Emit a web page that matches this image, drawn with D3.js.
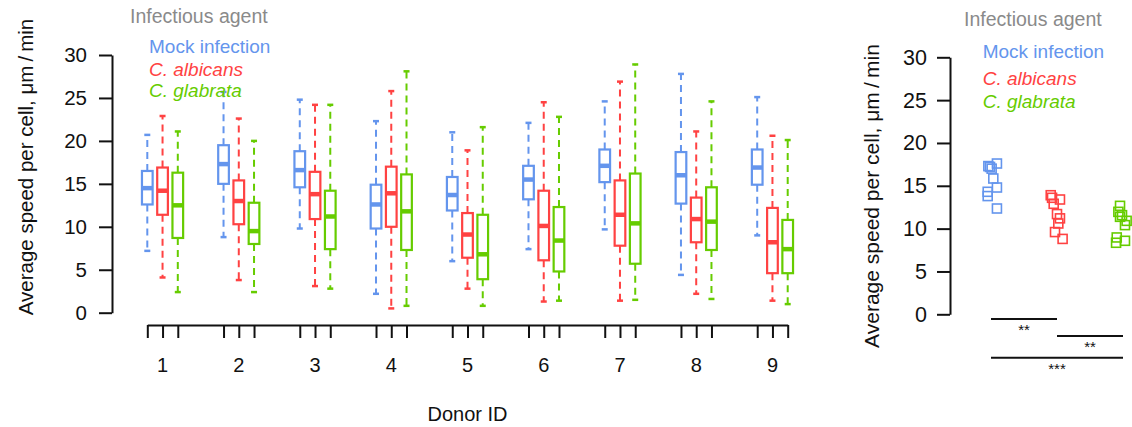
<!DOCTYPE html>
<html>
<head>
<meta charset="utf-8">
<script src="https://cdn.jsdelivr.net/npm/d3@7"></script>
<style>
body { margin: 0; background: #fff; }
svg { display: block; font-family: "Liberation Sans", Arial, sans-serif; }
</style>
</head>
<body>
<svg width="1132" height="427"></svg>
<script>
const donors = ["1", "2", "3", "4", "5", "6", "7", "8", "9"];
const agents = ["Mock infection", "C. albicans", "C. glabrata"];
const colors = ["#6495ed", "#ff4242", "#66cc00"];

// [lower whisker, Q1, median, Q3, upper whisker] for each donor
const mockStats = [
  [7.2, 12.6, 14.5, 16.5, 20.7],
  [8.8, 15.0, 17.3, 19.5, 25.7],
  [9.8, 14.6, 16.6, 18.8, 24.8],
  [2.2, 9.8, 12.6, 14.9, 22.3],
  [6.0, 11.9, 13.7, 15.8, 21.0],
  [7.4, 13.2, 15.5, 17.1, 22.1],
  [9.7, 15.2, 17.1, 19.0, 24.6],
  [4.4, 12.7, 16.0, 18.7, 27.8],
  [9.0, 14.9, 16.9, 19.0, 25.1]
];
const albicansStats = [
  [4.1, 11.4, 14.2, 16.9, 22.9],
  [3.8, 10.3, 13.0, 15.4, 22.6],
  [3.1, 10.9, 13.8, 16.4, 24.2],
  [0.5, 10.0, 13.9, 17.0, 25.8],
  [2.8, 6.4, 9.1, 11.6, 18.9],
  [1.3, 6.1, 10.1, 14.2, 24.5],
  [1.4, 7.8, 11.4, 15.4, 26.9],
  [2.2, 8.2, 10.9, 13.4, 21.1],
  [1.4, 4.6, 8.2, 12.2, 20.6]
];
const glabrataStats = [
  [2.4, 8.7, 12.5, 16.3, 21.1],
  [2.4, 8.0, 9.5, 12.8, 20.0],
  [2.8, 7.4, 11.2, 14.2, 24.2],
  [0.8, 7.3, 11.8, 16.1, 28.1],
  [0.8, 3.9, 6.8, 11.4, 21.6],
  [1.4, 4.8, 8.4, 12.3, 22.8],
  [1.5, 5.7, 10.4, 16.2, 28.9],
  [1.6, 7.3, 10.6, 14.6, 24.6],
  [1.0, 4.6, 7.4, 10.8, 20.1]
];

// per-donor averages (right panel) and their horizontal jitter
const mockMeans = [17.3, 17.6, 17.0, 17.2, 15.85, 14.8, 14.3, 13.8, 12.35];
const albicansMeans = [13.9, 13.6, 13.4, 12.9, 11.7, 11.2, 10.6, 9.6, 8.8];
const glabrataMeans = [12.66, 11.96, 11.57, 11.38, 10.91, 10.41, 8.97, 8.58, 8.35];
const mockJitter = [-0.04, 0.09, 0.01, -0.015, 0.035, 0.09, -0.05, -0.05, 0.09];
const albicansJitter = [-0.095, -0.075, 0.045, -0.05, 0, 0.045, 0.02, -0.03, 0.085];
const glabrataJitter = [-0.045, -0.07, -0.015, -0.045, 0.055, 0.03, -0.095, 0.03, -0.105];

const yTicks = [0, 5, 10, 15, 20, 25, 30];
const comparisons = [
  {from: 0, to: 1, label: "**"},
  {from: 1, to: 2, label: "**"},
  {from: 0, to: 2, label: "***"}
];

const allStats = [mockStats, albicansStats, glabrataStats];
const allMeans = [mockMeans, albicansMeans, glabrataMeans];
const allJitter = [mockJitter, albicansJitter, glabrataJitter];
const yLabel = "Average speed per cell,  \u03bcm\u2009/\u2009min";

const svg = d3.select("svg");

// ---------- left panel: boxplots per donor ----------
const x = d3.scaleLinear().domain([1, 43]).range([147.3, 787.7]);
const y = d3.scaleLinear().domain([0, 30]).range([312.7, 55]);
const unit = x(2) - x(1);
const bw = unit * 0.7;
const pos = (d, a) => 5 * d + a + 1;

const yAxisL = svg.append("g")
  .attr("transform", "translate(112,0)")
  .call(d3.axisLeft(y).tickValues(yTicks).tickSize(13).tickSizeOuter(0).tickPadding(12));

const xPositions = [];
donors.forEach((d, i) => agents.forEach((a, j) => xPositions.push(pos(i, j))));

const xAxis = svg.append("g")
  .attr("transform", "translate(0,325)")
  .call(d3.axisBottom(x).tickValues(xPositions).tickSize(13).tickSizeOuter(0).tickFormat(""));

[yAxisL, xAxis].forEach(ax => {
  ax.selectAll("path, line").attr("stroke", "#111").attr("stroke-width", 2);
  ax.selectAll("text").attr("font-size", 20.5).attr("fill", "#111").attr("font-family", "Liberation Sans, Arial, sans-serif");
});

svg.append("g").selectAll("text")
  .data(donors)
  .join("text")
  .attr("x", (d, i) => x(pos(i, 1)))
  .attr("y", 372)
  .attr("text-anchor", "middle")
  .attr("font-size", 20)
  .attr("fill", "#111")
  .text(d => d);

svg.append("text")
  .attr("x", (x(1) + x(43)) / 2)
  .attr("y", 421)
  .attr("text-anchor", "middle")
  .attr("font-size", 20)
  .attr("fill", "#111")
  .text("Donor ID");

svg.append("text")
  .attr("transform", "translate(33,167) rotate(-90)")
  .attr("text-anchor", "middle")
  .attr("font-size", 20.5)
  .attr("fill", "#111")
  .text(yLabel);

const boxes = svg.append("g");
allStats.forEach((stats, a) => {
  const col = colors[a];
  const g = boxes.append("g").selectAll("g")
    .data(stats)
    .join("g");

  // whiskers
  g.append("line")
    .attr("x1", (s, i) => x(pos(i, a))).attr("x2", (s, i) => x(pos(i, a)))
    .attr("y1", s => y(s[3])).attr("y2", s => y(s[4]))
    .attr("stroke", col).attr("stroke-width", 2).attr("stroke-dasharray", "7,5");
  g.append("line")
    .attr("x1", (s, i) => x(pos(i, a))).attr("x2", (s, i) => x(pos(i, a)))
    .attr("y1", s => y(s[1])).attr("y2", s => y(s[0]))
    .attr("stroke", col).attr("stroke-width", 2).attr("stroke-dasharray", "7,5");
  // staples
  [0, 4].forEach(k => {
    g.append("line")
      .attr("x1", (s, i) => x(pos(i, a)) - 3).attr("x2", (s, i) => x(pos(i, a)) + 3)
      .attr("y1", s => y(s[k])).attr("y2", s => y(s[k]))
      .attr("stroke", col).attr("stroke-width", 2.5);
  });
  // box
  g.append("rect")
    .attr("x", (s, i) => x(pos(i, a)) - bw / 2)
    .attr("width", bw)
    .attr("y", s => y(s[3]))
    .attr("height", s => y(s[1]) - y(s[3]))
    .attr("fill", "white")
    .attr("stroke", col).attr("stroke-width", 2.2);
  // median
  g.append("line")
    .attr("x1", (s, i) => x(pos(i, a)) - bw / 2).attr("x2", (s, i) => x(pos(i, a)) + bw / 2)
    .attr("y1", s => y(s[2])).attr("y2", s => y(s[2]))
    .attr("stroke", col).attr("stroke-width", 4.5);
});

// left legend
svg.append("text")
  .attr("x", 130).attr("y", 22.5)
  .attr("font-size", 19.5).attr("fill", "#8a8a8a")
  .text("Infectious agent");
svg.append("g").selectAll("text")
  .data(agents)
  .join("text")
  .attr("x", 149)
  .attr("y", (d, i) => [53.3, 76, 97][i])
  .attr("font-size", 19)
  .attr("font-style", (d, i) => i ? "italic" : "normal")
  .attr("fill", (d, i) => colors[i])
  .text(d => d);

// ---------- right panel: per-donor averages ----------
const x2 = d3.scaleLinear().domain([1, 3]).range([991, 1123]);
const y2 = d3.scaleLinear().domain([0, 30]).range([314.3, 57.3]);

const yAxisR = svg.append("g")
  .attr("transform", "translate(950,0)")
  .call(d3.axisLeft(y2).tickValues(yTicks).tickSize(13).tickSizeOuter(0).tickPadding(10));
yAxisR.selectAll("path, line").attr("stroke", "#111").attr("stroke-width", 2);
yAxisR.selectAll("text").attr("font-size", 21.5).attr("fill", "#111").attr("font-family", "Liberation Sans, Arial, sans-serif");

svg.append("text")
  .attr("transform", "translate(879,196) rotate(-90)")
  .attr("text-anchor", "middle")
  .attr("font-size", 21)
  .attr("fill", "#111")
  .text(yLabel);

allMeans.forEach((means, a) => {
  svg.append("g").selectAll("rect")
    .data(means)
    .join("rect")
    .attr("x", (v, i) => x2(a + 1 + allJitter[a][i]) - 4.5)
    .attr("y", v => y2(v) - 4.5)
    .attr("width", 9).attr("height", 9)
    .attr("fill", "none")
    .attr("stroke", colors[a])
    .attr("stroke-width", 1.6);
});

const sigY = [319, 336, 357.7];
const sig = svg.append("g").selectAll("g")
  .data(comparisons)
  .join("g");
sig.append("line")
  .attr("x1", c => x2(c.from + 1)).attr("x2", c => x2(c.to + 1))
  .attr("y1", (c, i) => sigY[i])
  .attr("y2", (c, i) => sigY[i])
  .attr("stroke", "#111").attr("stroke-width", 2);
sig.append("text")
  .attr("x", c => (x2(c.from + 1) + x2(c.to + 1)) / 2)
  .attr("y", (c, i) => sigY[i] + 16)
  .attr("text-anchor", "middle")
  .attr("font-size", 15)
  .attr("fill", "#111")
  .text(c => c.label);

// right legend
svg.append("text")
  .attr("x", 964).attr("y", 26)
  .attr("font-size", 19.5).attr("fill", "#8a8a8a")
  .text("Infectious agent");
svg.append("g").selectAll("text")
  .data(agents)
  .join("text")
  .attr("x", 982.7)
  .attr("y", (d, i) => [58.3, 84.5, 108][i])
  .attr("font-size", 19)
  .attr("font-style", (d, i) => i ? "italic" : "normal")
  .attr("fill", (d, i) => colors[i])
  .text(d => d);
</script>
</body>
</html>
